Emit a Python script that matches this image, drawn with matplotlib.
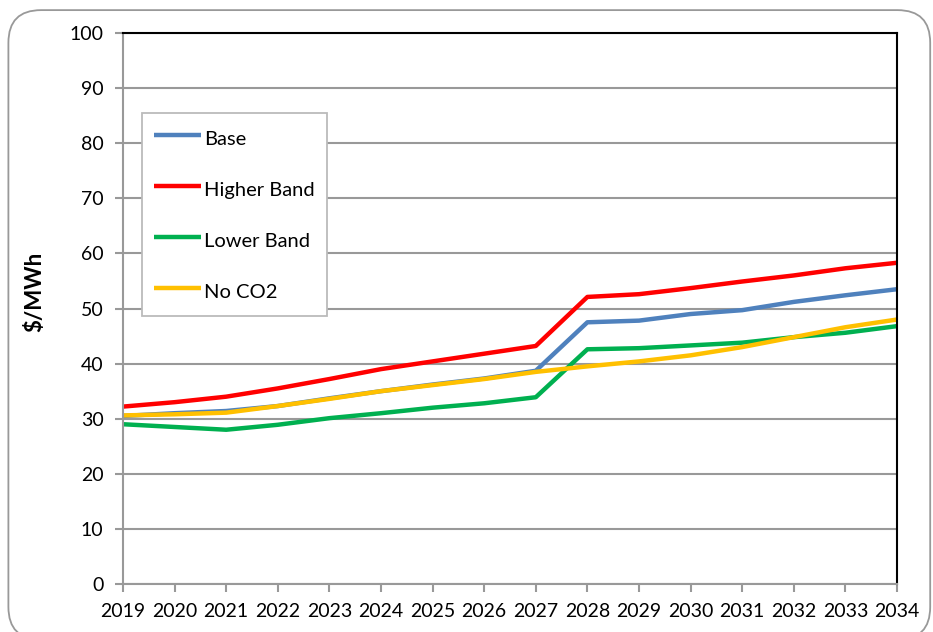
import matplotlib.pyplot as plt
from matplotlib.patches import FancyBboxPatch

plt.rcParams['font.family'] = ['Lato', 'DejaVu Sans']

years = list(range(2019, 2035))

base = [30.5, 31.0, 31.4, 32.3, 33.7, 35.0, 36.2, 37.3, 38.7, 47.5, 47.8, 49.0, 49.7, 51.2, 52.4, 53.5]
higher_band = [32.2, 33.0, 34.0, 35.5, 37.2, 39.0, 40.4, 41.8, 43.2, 52.1, 52.6, 53.7, 54.9, 56.0, 57.3, 58.3]
lower_band = [29.0, 28.5, 28.0, 28.9, 30.1, 31.0, 32.0, 32.8, 33.9, 42.6, 42.8, 43.3, 43.8, 44.8, 45.6, 46.8]
no_co2 = [30.6, 30.8, 31.1, 32.3, 33.6, 35.0, 36.1, 37.2, 38.5, 39.5, 40.4, 41.5, 43.0, 44.8, 46.6, 48.0]

series = [
    ('Base', base, '#4F81BD'),
    ('Higher Band', higher_band, '#FF0000'),
    ('Lower Band', lower_band, '#00B050'),
    ('No CO2', no_co2, '#FFC000'),
]

fig = plt.figure(figsize=(9.33, 6.32), dpi=100)

# rounded frame around the whole chart
frame = FancyBboxPatch((0.009, -0.012), 0.988, 0.996, boxstyle='round,pad=0,rounding_size=0.035',
                       transform=fig.transFigure, facecolor='none', edgecolor='#999999',
                       linewidth=1.3, mutation_aspect=933 / 632)
fig.patches.append(frame)

ax = fig.add_axes([0.1318, 0.0759, 0.8296, 0.8719])

for name, values, color in series:
    ax.plot(years, values, color=color, linewidth=3.2, label=name, solid_capstyle='butt')

ax.set_xlim(2019, 2034)
ax.set_ylim(0, 100)
ax.set_xticks(years)
ax.set_yticks(range(0, 101, 10))
ax.yaxis.grid(True, color='#999999', linewidth=1.5)
ax.set_axisbelow(True)

ax.tick_params(axis='both', labelsize=14, length=6, width=1.5, labelcolor='black', color='#999999')
ax.tick_params(axis='x', pad=8)
ax.tick_params(axis='y', pad=8)

for side in ['left', 'bottom']:
    ax.spines[side].set_color('#999999')
    ax.spines[side].set_linewidth(1.5)
for side in ['top', 'right']:
    ax.spines[side].set_color('black')
    ax.spines[side].set_linewidth(1.5)

ax.set_ylabel('$/MWh', fontsize=16, fontweight='bold')
ax.yaxis.set_label_coords(-0.1, 0.53)

# taller legend rows so the entries spread down the box
leg = ax.legend(loc='upper left', bbox_to_anchor=(0.0245, 0.855), fontsize=14.5,
                frameon=True, fancybox=False, edgecolor='#BBBBBB', framealpha=1,
                handlelength=2.35, handletextpad=0.15, handleheight=1.6,
                labelspacing=1.25, borderpad=0.6, borderaxespad=0)
leg.get_frame().set_linewidth(1.3)

fig.savefig('out.png', dpi=100)
